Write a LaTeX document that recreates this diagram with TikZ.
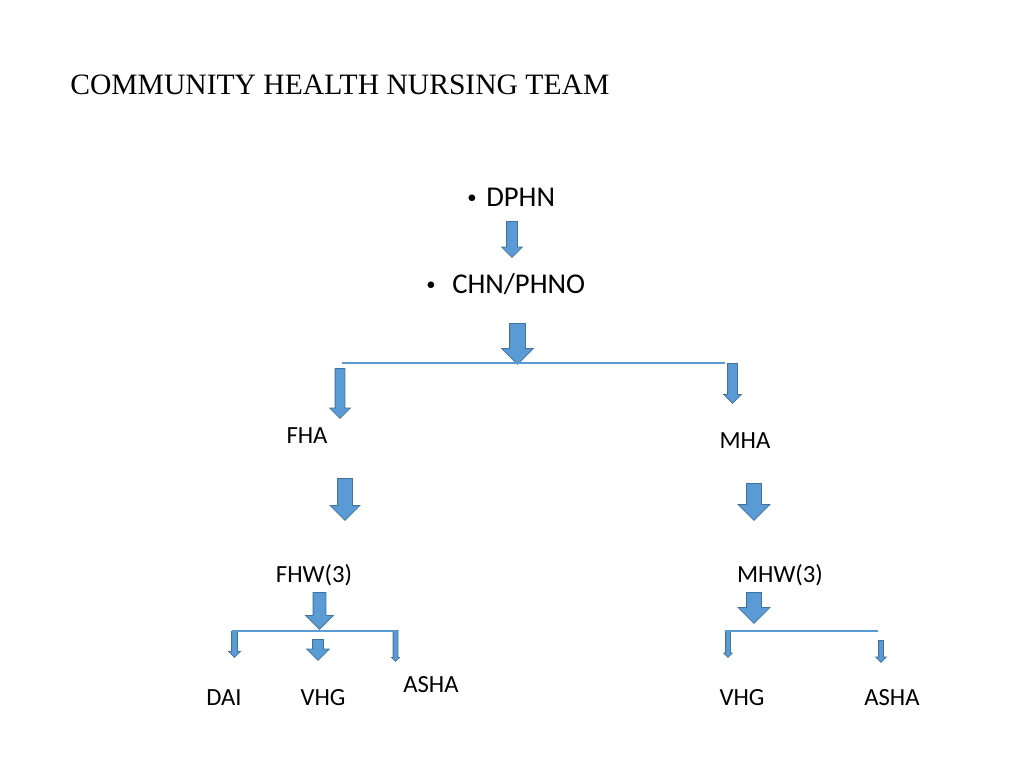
\documentclass[tikz,border=0pt]{standalone}
\usepackage{fontspec}
\setmainfont{Carlito}
\newfontfamily\titlefont{Liberation Serif}
\usetikzlibrary{shapes.arrows}

\definecolor{arrowfill}{HTML}{5B9BD5}
\definecolor{arrowline}{HTML}{41719C}

\newcommand{\bulletmark}[1]{\makebox[#1][l]{\fontsize{14}{14}\selectfont\raisebox{2.2pt}{•}}}

\tikzset{
    blockarrow/.style n args = {3}{single arrow,
                draw = arrowline,
                fill = arrowfill,
                line width = 0.6pt,
                rotate = -90,
                anchor = tail,
                inner xsep = 0pt,
                minimum width = 0pt,
                minimum height = #1*0.75pt,
                inner ysep = #2*0.375pt,
                single arrow head extend = (#3-#2)*0.375pt},
    branch/.style = {draw = arrowfill, line width = 0.9pt},
    level/.style  = {font = \fontsize{21.5}{26}\selectfont, inner sep = 0pt, anchor = base west},
    role/.style   = {font = \fontsize{18.5}{22}\selectfont, inner sep = 0pt, anchor = base},
}

\begin{document}
\begin{tikzpicture}[x=0.75pt, y=-0.75pt]
        \useasboundingbox (0,0) rectangle (1024,768);
        % ---------------------------------------------------------------------------
        % Draw nodes
        % ---------------------------------------------------------------------------
        \node[  inner sep = 0pt,
                anchor = base west,
                font = \titlefont\fontsize{22.2}{26}\selectfont]  (Title) at (70,94) {COMMUNITY HEALTH NURSING TEAM};

        \node[level]  (DPHN) at (467,206) {\bulletmark{14.25pt}DPHN};
        \node[level]  (CHN)  at (426,293) {\bulletmark{19.5pt}CHN/PHNO};

        \node[role]   (FHA)  at (307,443) {FHA};
        \node[role]   (MHA)  at (745,448) {MHA};
        \node[role]   (FHW)  at (314,582) {FHW(3)};
        \node[role]   (MHW)  at (780,582) {MHW(3)};

        \node[role]   (DAI)      at (224,705) {DAI};
        \node[role]   (VHGleft)  at (323,705) {VHG};
        \node[role]   (ASHAleft) at (431,692) {ASHA};
        \node[role]   (VHGright) at (742,705) {VHG};
        \node[role]   (ASHAright) at (892,705) {ASHA};

        % ---------------------------------------------------------------------------
        % Draw arrows
        % ---------------------------------------------------------------------------
        \node[blockarrow = {36}{10}{20}]   (toCHN)      at (512,221)   {};     % DPHN
        \node[blockarrow = {41}{15}{31}]   (toBranch)   at (517.5,323) {};     % CHN/PHNO
        \node[blockarrow = {50}{9}{20}]    (toFHA)      at (340,368)   {};     % FHA
        \node[blockarrow = {40}{9}{17}]    (toMHA)      at (732.5,363) {};     % MHA
        \node[blockarrow = {42}{14}{29}]   (toFHW)      at (345,478)   {};     % FHW
        \node[blockarrow = {37}{14}{31}]   (toMHW)      at (754,483)   {};     % MHW
        \node[blockarrow = {37}{12}{27}]   (fromFHW)    at (319.5,592) {};     % FHW group
        \node[blockarrow = {21}{10}{22}]   (toVHGleft)  at (318,639)   {};     % VHG
        \node[blockarrow = {26}{5}{11}]    (toDAI)      at (234.5,631) {};     % DAI
        \node[blockarrow = {31}{4}{7}]     (toASHAleft) at (395.5,630) {};     % ASHA
        \node[blockarrow = {31}{14}{31}]   (fromMHW)    at (754,592)   {};     % MHW group
        \node[blockarrow = {26}{4}{8}]     (toVHGright) at (728,631)   {};     % VHG
        \node[blockarrow = {22}{4}{10}]    (toASHAright) at (881,640)  {};     % ASHA

        % ---------------------------------------------------------------------------
        % Draw branch lines
        % ---------------------------------------------------------------------------
        \coordinate (topL) at (342,363);
        \coordinate (topR) at (725,363);
        \coordinate (fhwL) at (232,631);
        \coordinate (fhwR) at (397,631);
        \coordinate (mhwL) at (725,631);
        \coordinate (mhwR) at (878,631);

        \draw [branch]  (topL) -- (topR);     % CHN/PHNO
        \draw [branch]  (fhwL) -- (fhwR);     % FHW(3)
        \draw [branch]  (mhwL) -- (mhwR);     % MHW(3)

\end{tikzpicture}
\end{document}
